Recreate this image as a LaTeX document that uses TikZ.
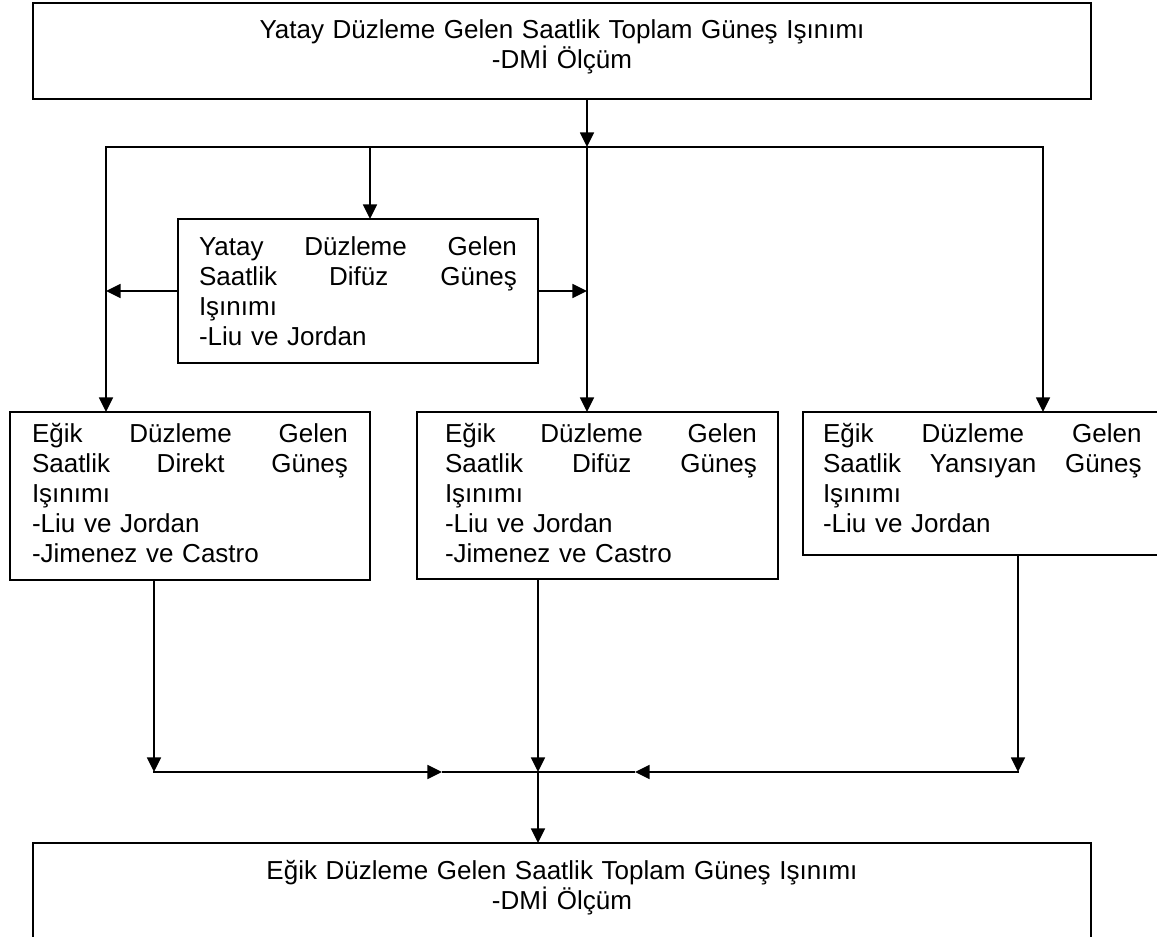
\documentclass[tikz,border=0pt]{standalone}
\usepackage{fontspec}
\setmainfont{Liberation Sans}
\usetikzlibrary{arrows.meta}
\begin{document}
\begin{tikzpicture}[x=0.75pt,y=-0.75pt,line width=1.2pt,
  box/.style={draw,rectangle,inner sep=0pt,outer sep=0pt,anchor=north west},
  txt/.style={inner sep=0pt,outer sep=0pt,font=\fontsize{19.5pt}{22.5pt}\selectfont,align=left,anchor=base west},
  ctxt/.style={inner sep=0pt,outer sep=0pt,font=\fontsize{19.5pt}{22.5pt}\selectfont,align=center,anchor=base,text width=750pt},
  arr/.style={-{Triangle[length=11pt,width=10.5pt]}}]
\useasboundingbox[fill=white] (0,0) rectangle (1157,937);

% boxes
\node[box,minimum width=793.5pt,minimum height=72pt] (top) at (33,3) {};
\node[box,minimum width=270pt,minimum height=108pt] (small) at (178,219) {};
\node[box,minimum width=270pt,minimum height=126pt] (lbox) at (10,412) {};
\node[box,minimum width=270.75pt,minimum height=125.25pt] (mbox) at (417,412) {};
\node[box,minimum width=270pt,minimum height=107.25pt] (rbox) at (803,412) {};
\node[box,minimum width=793.5pt,minimum height=90pt] (bot) at (33,843) {};

% texts
\node[ctxt] (toptext) at (562,39)
  {Yatay Düzleme Gelen Saatlik Toplam Güneş Işınımı\\-DMİ Ölçüm};
\node[txt,text width=238.5pt] (smalltext) at (199,256)
  {Yatay\hfill Düzleme\hfill Gelen\\Saatlik\hfill Difüz\hfill Güneş\\Işınımı\\-Liu ve Jordan};
\node[txt,text width=237pt] (ltext) at (32,443)
  {Eğik\hfill Düzleme\hfill Gelen\\Saatlik\hfill Direkt\hfill Güneş\\Işınımı\\-Liu ve Jordan\\-Jimenez ve Castro};
\node[txt,text width=234pt] (mtext) at (445,443)
  {Eğik\hfill Düzleme\hfill Gelen\\Saatlik\hfill Difüz\hfill Güneş\\Işınımı\\-Liu ve Jordan\\-Jimenez ve Castro};
\node[txt,text width=239pt] (rtext) at (823,443)
  {Eğik\hfill Düzleme\hfill Gelen\\Saatlik\hfill Yansıyan\hfill Güneş\\Işınımı\\-Liu ve Jordan};
\node[ctxt] (bottext) at (562,879)
  {Eğik Düzleme Gelen Saatlik Toplam Güneş Işınımı\\-DMİ Ölçüm};

% junctions
\coordinate (t1) at (587,147);
\coordinate (hL) at (106,147);
\coordinate (hM) at (370,147);
\coordinate (hR) at (1043,147);
\coordinate (bL) at (154,772);
\coordinate (bM) at (538,772);
\coordinate (bR) at (1018,772);
\coordinate (aL) at (442,772);
\coordinate (aR) at (635,772);

% upper connectors
\draw[arr] (top.south -| t1) -- (t1);
\draw[arr] (t1) -- (hL) -- (hL |- lbox.north);
\draw[arr] (t1) -- (hR) -- (hR |- rbox.north);
\draw[arr] (hM) -- (hM |- small.north);
\draw[arr] (t1) -- (t1 |- mbox.north);
\draw[arr] (small.west) -- (hL |- small.west);
\draw[arr] (small.east) -- (t1 |- small.east);

% lower connectors
\draw[arr] (bL |- lbox.south) -- (bL);
\draw[arr] (bM |- mbox.south) -- (bM);
\draw[arr] (bR |- rbox.south) -- (bR);
\draw[arr,line cap=rect] (bL) -- (aL);
\draw (aL) -- (bM);
\draw[arr,line cap=rect] (bR) -- (aR);
\draw (aR) -- (bM);
\draw[arr] (bM) -- (bM |- bot.north);
\end{tikzpicture}
\end{document}
